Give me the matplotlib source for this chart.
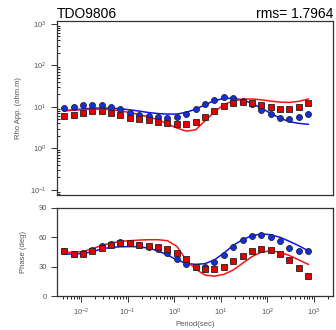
import numpy as np
import matplotlib
matplotlib.use('Agg')
import matplotlib.pyplot as plt
from matplotlib.ticker import LogLocator, NullFormatter

plt.rcParams['font.family'] = ['Liberation Sans', 'DejaVu Sans']
plt.rcParams['mathtext.fontset'] = 'custom'
plt.rcParams['mathtext.rm'] = 'Liberation Sans'
plt.rcParams['mathtext.it'] = 'Liberation Sans'

# periods (s)
period = [0.00431, 0.00687, 0.0109, 0.0174, 0.0277, 0.0440, 0.0700, 0.111, 0.177,
          0.282, 0.449, 0.714, 1.14, 1.81, 2.88, 4.57, 7.28, 11.6, 18.4, 29.3,
          46.7, 74.3, 118, 188, 299, 476, 757]

# apparent resistivity data (ohm.m)
rho_blue = [9.3, 10.0, 11.0, 11.3, 11.0, 10.0, 8.7, 7.3, 6.5, 6.1, 5.7, 5.5, 5.6,
            6.6, 8.8, 11.6, 15.0, 17.0, 16.7, 14.2, 11.6, 8.6, 6.6, 5.5, 5.2, 5.7, 6.8]
rho_red = [6.0, 6.4, 7.3, 8.0, 8.0, 7.3, 6.3, 5.5, 5.0, 4.7, 4.4, 4.0, 3.8,
           3.8, 4.4, 5.8, 8.1, 10.6, 12.3, 13.4, 12.7, 11.2, 9.8, 9.0, 9.0, 9.8, 12.3]
# model responses
rho_blue_fit = [8.1, 8.5, 8.9, 9.3, 9.4, 9.3, 9.0, 8.5, 7.9, 7.3, 6.9, 6.7, 6.7,
                7.4, 8.8, 11.2, 14.2, 15.9, 16.2, 14.7, 12.2, 9.3, 7.0, 5.3, 4.4, 4.0, 3.8]
rho_red_fit = [8.0, 8.3, 8.6, 8.8, 8.8, 8.6, 8.0, 7.3, 6.5, 5.7, 4.9, 3.9, 3.1,
               2.6, 2.8, 4.6, 7.5, 11.4, 13.8, 15.3, 15.5, 14.8, 13.8, 13.0, 12.8, 13.6, 15.5]

# phase data (deg)
ph_blue = [45.3, 42.9, 44.2, 47.3, 50.4, 53.2, 54.5, 53.9, 51.5, 50.1, 48.0, 43.6, 37.7,
           32.2, 29.5, 29.2, 34.3, 41.8, 49.7, 56.6, 60.7, 62.1, 60.0, 55.6, 48.7, 45.3, 46.0]
ph_red = [45.3, 42.5, 42.9, 45.3, 48.7, 51.5, 53.9, 53.9, 51.5, 50.4, 49.4, 47.7, 44.2,
          37.4, 29.8, 27.1, 27.1, 29.8, 35.7, 41.2, 45.6, 48.0, 47.3, 42.5, 36.7, 28.1, 20.2]
ph_blue_fit = [42.5, 42.8, 43.2, 45.0, 48.0, 49.4, 50.1, 50.3, 50.1, 48.7, 46.0, 41.8, 36.7,
               33.3, 32.2, 32.9, 36.7, 43.6, 51.5, 57.3, 61.4, 63.1, 62.4, 59.7, 55.6, 51.1, 46.0]
ph_red_fit = [44.2, 44.6, 45.3, 48.0, 51.5, 53.9, 55.6, 56.3, 56.9, 57.3, 57.3, 56.3, 50.4,
              36.7, 27.4, 21.3, 20.2, 22.0, 26.4, 33.3, 40.1, 44.6, 46.0, 44.6, 41.2, 36.7, 32.2]

station = 'TDO9806'
rms = 1.7964

fig = plt.figure(figsize=(3.36, 3.30), dpi=100)
ax1 = fig.add_axes([0.170, 0.409, 0.821, 0.528])
ax2 = fig.add_axes([0.170, 0.103, 0.821, 0.268], sharex=ax1)

spine_c = '#333333'
lab_c = '#555555'

def style(ax):
    for s in ax.spines.values():
        s.set_color(spine_c)
        s.set_linewidth(0.9)
    ax.tick_params(colors=spine_c, labelcolor=lab_c, labelsize=5.5, width=0.7)

# resistivity panel
ax1.plot(period, rho_blue_fit, color='#1010ff', lw=1.1, zorder=2)
ax1.plot(period, rho_red_fit, color='#ff1010', lw=1.1, zorder=2)
ax1.plot(period, rho_blue, 'o', ms=4.3, mfc='#1030e0', mec='#222222', mew=0.6, zorder=3)
ax1.plot(period, rho_red, 's', ms=4.3, mfc='#e00000', mec='#222222', mew=0.6, zorder=3)
ax1.set_xscale('log')
ax1.set_yscale('log')
ax1.set_xlim(10 ** -2.515, 10 ** 3.41)
ax1.set_ylim(10 ** -1.125, 10 ** 3.075)
ax1.yaxis.set_major_locator(LogLocator(base=10, numticks=10))
ax1.yaxis.set_minor_locator(LogLocator(base=10, subs=np.arange(2, 10), numticks=20))
ax1.yaxis.set_minor_formatter(NullFormatter())
style(ax1)
ax1.tick_params(axis='y', which='major', direction='out', length=4)
ax1.tick_params(axis='y', which='minor', direction='in', length=2.5, width=0.6)
ax1.tick_params(axis='x', which='both', bottom=False, labelbottom=False)
ax1.set_ylabel('Rho App. (ohm.m)', fontsize=5.5, color=lab_c, labelpad=6)
ax1.set_title(station, loc='left', fontsize=10, pad=2, x=0.0)
ax1.set_title('rms= %.4f' % rms, loc='right', fontsize=10, pad=2)

# phase panel
ax2.plot(period, ph_blue_fit, color='#1010ff', lw=1.1, zorder=2)
ax2.plot(period, ph_red_fit, color='#ff1010', lw=1.1, zorder=2)
ax2.plot(period, ph_blue, 'o', ms=4.3, mfc='#1030e0', mec='#222222', mew=0.6, zorder=3)
ax2.plot(period, ph_red, 's', ms=4.3, mfc='#e00000', mec='#222222', mew=0.6, zorder=3)
ax2.set_ylim(0, 90)
ax2.set_yticks([0, 30, 60, 90])
style(ax2)
ax2.xaxis.set_major_locator(LogLocator(base=10, numticks=10))
ax2.xaxis.set_minor_locator(LogLocator(base=10, subs=np.arange(2, 10), numticks=20))
ax2.xaxis.set_minor_formatter(NullFormatter())
ax2.tick_params(axis='y', which='major', direction='out', length=4)
ax2.tick_params(axis='x', which='major', direction='out', length=4)
ax2.tick_params(axis='x', which='minor', direction='out', length=2.5, width=0.6)
ax2.set_ylabel('Phase (deg)', fontsize=5.5, color=lab_c, labelpad=8)
ax2.set_xlabel('Period(sec)', fontsize=5.5, color=lab_c, labelpad=2)

fig.savefig('out.png', dpi=100)
